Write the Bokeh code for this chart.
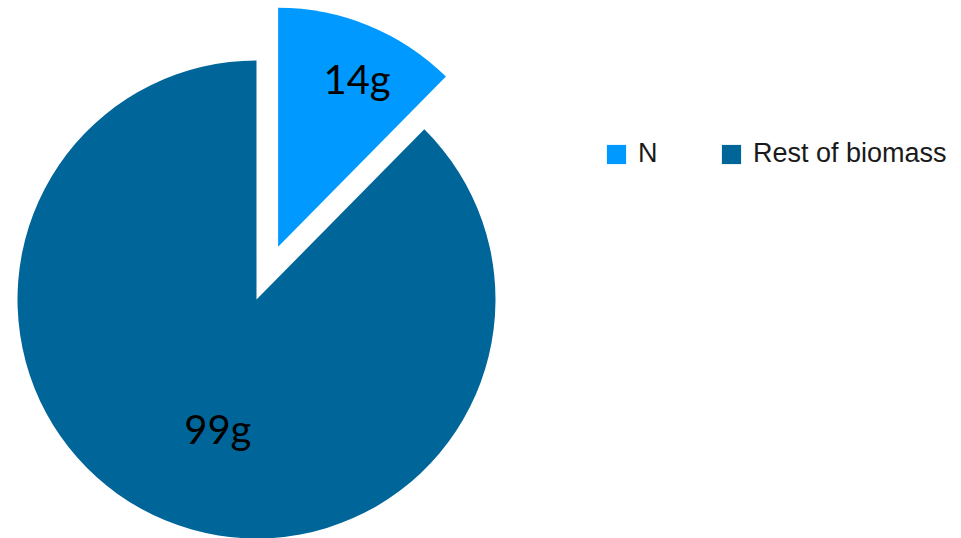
import math
from bokeh.plotting import figure
from bokeh.models import ColumnDataSource, Range1d, Legend, LegendItem
from bokeh.core.properties import value
from bokeh.embed import file_html
from bokeh.resources import INLINE

# ---- data ----
categories = ["N", "Rest of biomass"]
values = [14, 99]
value_labels = ["14g", "99g"]
colors = ["#0099FF", "#006699"]

W, H = 961, 538
cx, cy = 256, H - 299      # pie centre (data units == pixels)
R = 239
explode = [57, 0]
label_frac = [0.76, 0.57]
label_dx = [10, 13]
label_dy = [0, -3]

total = sum(values)
start_deg = 90.0
xs, ys, sa, ea, lx, ly = [], [], [], [], [], []
cur = start_deg
for i, v in enumerate(values):
    sweep = 360.0 * v / total
    end = cur - sweep           # clockwise
    mid = math.radians((cur + end) / 2)
    ox = cx + explode[i] * math.cos(mid)
    oy = cy + explode[i] * math.sin(mid)
    xs.append(ox); ys.append(oy)
    sa.append(math.radians(end)); ea.append(math.radians(cur))
    lx.append(ox + label_frac[i] * R * math.cos(mid) + label_dx[i])
    ly.append(oy + label_frac[i] * R * math.sin(mid) + label_dy[i])
    cur = end

src = ColumnDataSource(dict(x=xs, y=ys, start=sa, end=ea, color=colors,
                            cat=categories, lx=lx, ly=ly, lab=value_labels))

p = figure(width=W, height=H, x_range=Range1d(0, W), y_range=Range1d(0, H),
           output_backend="svg", toolbar_location=None, min_border=0)
p.axis.visible = False
p.grid.visible = False
p.outline_line_color = None
p.background_fill_color = "white"

r = p.wedge(x="x", y="y", radius=R, start_angle="start", end_angle="end",
            fill_color="color", line_color=None, source=src)

p.text(x="lx", y="ly", text="lab", source=src, text_align="center",
       text_baseline="middle", text_font=value("Lato"), text_font_size="40px",
       text_color="black")

items = [LegendItem(label=categories[i], renderers=[r], index=i) for i in range(len(categories))]
legend = Legend(items=items, orientation="horizontal", location=(604, 369),
                glyph_width=24, glyph_height=24, label_standoff=10, spacing=61,
                padding=0, margin=0, border_line_color=None,
                background_fill_alpha=0, label_text_font="Liberation Sans",
                label_text_font_size="27px", label_text_color="#1a1a1a")
p.add_layout(legend, "center")

open("out.html", "w").write(file_html(p, INLINE))
